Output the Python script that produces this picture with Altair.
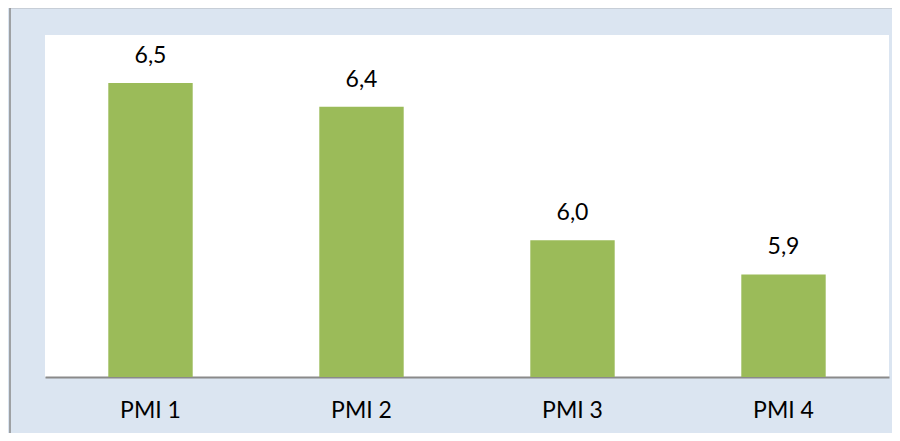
import altair as alt
import pandas as pd

categories = ["PMI 1", "PMI 2", "PMI 3", "PMI 4"]
values = [6.46, 6.39, 6.00, 5.90]
labels = ["6,5", "6,4", "6,0", "5,9"]

df = pd.DataFrame({"cat": categories, "val": values, "lab": labels})

FONT = "Lato"

x = alt.X("cat:N", sort=categories,
          scale=alt.Scale(paddingInner=0.6, paddingOuter=0.3),
          axis=alt.Axis(title=None, labelAngle=0, ticks=False, labelPadding=22,
                        labelFontSize=23, labelFont=FONT, labelColor="#000000",
                        domainColor="#8a8a8a", domainWidth=2))
y = alt.Y("val:Q", scale=alt.Scale(domain=[5.6, 6.6], zero=False, nice=False),
          axis=None)

frame = alt.Chart(pd.DataFrame({"a": [0]})).mark_rect(
    fill="transparent", stroke="#8a8a8a", strokeWidth=1.5
).encode(x=alt.value(-35), x2=alt.value(1000), y=alt.value(-27.5), y2=alt.value(600))

bars = alt.Chart(df).mark_bar(color="#9bbb59", clip=True).encode(x=x, y=y)

text = alt.Chart(df).mark_text(
    fontSize=23, font=FONT, color="#000000", baseline="middle", dy=-27
).encode(x=x, y=y, text="lab:N")

chart = alt.layer(frame, bars, text).properties(
    width=844, height=342,
    autosize=alt.AutoSizeParams(type="none"),
    padding={"left": 37, "top": 27, "right": 3, "bottom": 56},
    background="#dbe5f1",
).configure_view(fill="#ffffff", stroke=None)

chart.save("out.html", embed_options={"renderer": "svg", "actions": False})
